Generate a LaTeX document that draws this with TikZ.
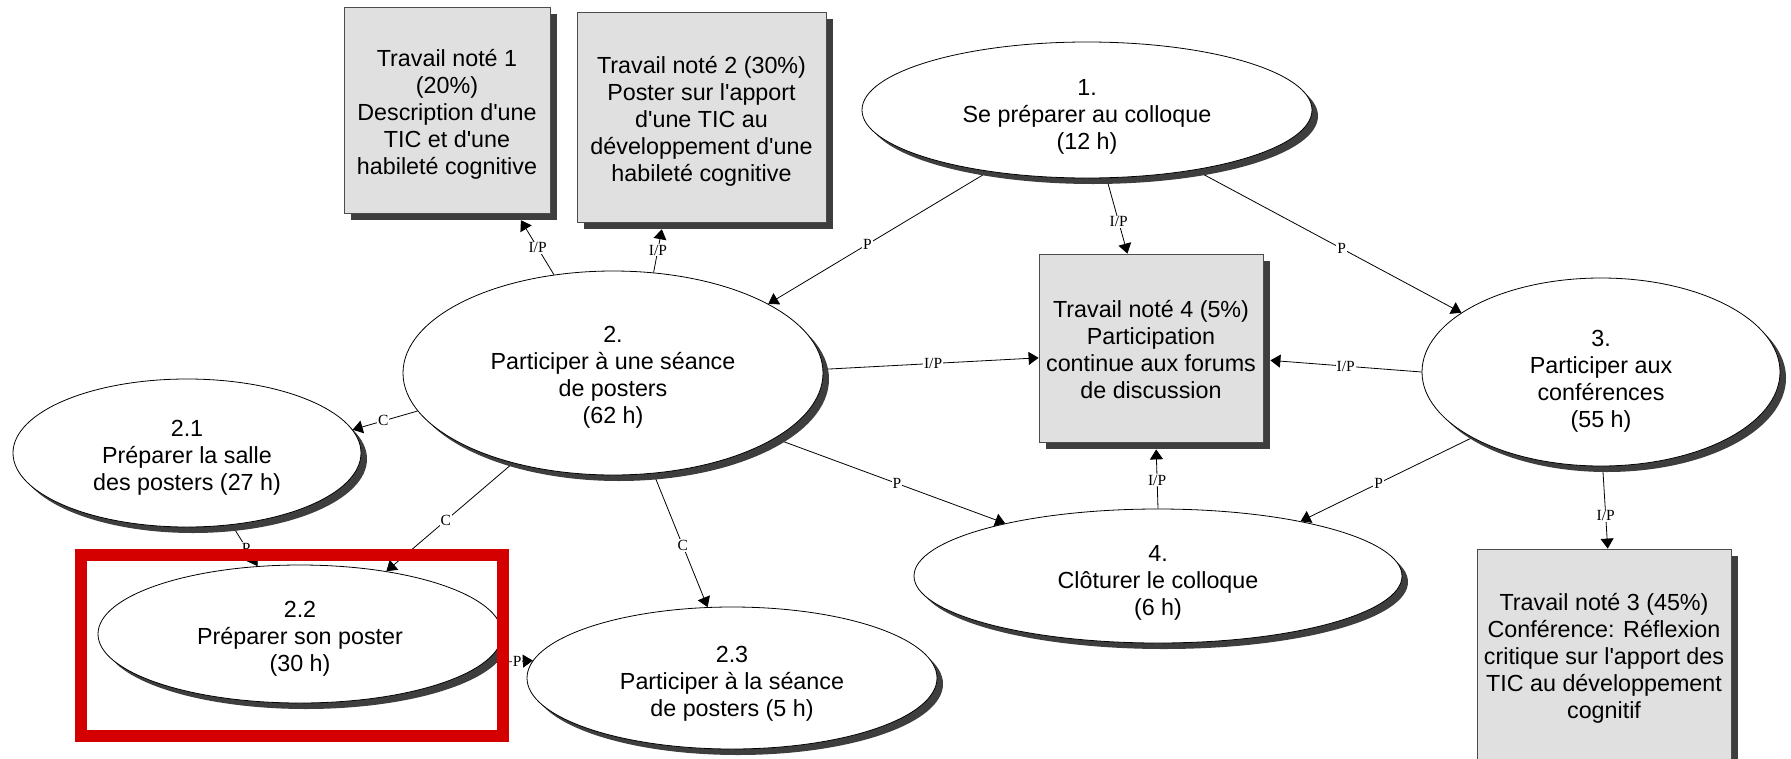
\documentclass[tikz,border=0pt]{standalone}
\usepackage{fontspec}
\setmainfont{Liberation Sans}
\newfontfamily\edgefont{Liberation Serif}
\usetikzlibrary{shapes.geometric,shadows,arrows.meta,backgrounds}
\definecolor{boxgray}{RGB}{224,224,224}
\definecolor{shadegray}{RGB}{62,62,62}
\definecolor{markred}{RGB}{212,0,0}
\newcommand\apos{\textquotesingle}
% invisible strut on a first line, to set how low the text block sits
\newcommand\capline[1]{\rule{0pt}{#1pt}}

\begin{document}
\begin{tikzpicture}[x=1pt,y=-1pt,
  task/.style={ellipse, draw=black, line width=0.8pt, fill=white, inner sep=0pt,
    align=center, font=\fontsize{23.3pt}{27pt}\selectfont,
    drop shadow={shadow xshift=6pt, shadow yshift=-6pt, fill=shadegray, opacity=1}},
  work/.style={rectangle, draw=black!70, line width=0.8pt, fill=boxgray, inner sep=0pt,
    align=center, font=\fontsize{23.3pt}{27pt}\selectfont,
    drop shadow={shadow xshift=7pt, shadow yshift=-7pt, fill=shadegray, opacity=1}},
  link/.style={line width=0.8pt, -{Triangle[length=10pt,width=13pt]}},
  tag/.style={font={\edgefont\fontsize{15.5pt}{15.5pt}\selectfont}, fill=white, inner sep=1pt},
]
\useasboundingbox (0,0) rectangle (1791,758);
\clip (0,0) rectangle (1791,758);

% activities
\node[task, minimum width=450pt, minimum height=136pt] (e1) at (1087,110)
  {\capline{29}1.\\Se préparer au colloque\\(12 h)};
\node[task, minimum width=420pt, minimum height=204pt] (e2) at (613,373)
  {\capline{24}2.\\Participer à une séance\\de posters\\(62 h)};
\node[task, minimum width=358pt, minimum height=188pt] (e3) at (1601,372)
  {\capline{34}3.\\Participer aux\\conférences\\(55 h)};
\node[task, minimum width=488pt, minimum height=134pt] (e4) at (1158,576)
  {\capline{29}4.\\Clôturer le colloque\\(6 h)};
\node[task, minimum width=348pt, minimum height=148pt] (e21) at (187,453)
  {\capline{26}2.1\\Préparer la salle\\des posters (27 h)};
\node[task, minimum width=404pt, minimum height=138pt] (e22) at (300,634)
  {\capline{25}2.2\\Préparer son poster\\(30 h)};
\node[task, minimum width=410pt, minimum height=142pt] (e23) at (732,678)
  {\capline{28}2.3\\Participer à la séance\\de posters (5 h)};

% graded assignments
\node[work, minimum width=206pt, minimum height=206pt] (tn1) at (447,110)
  {\capline{26}Travail noté 1\\(20\%)\\Description d\apos une\\TIC et d\apos une\\habileté cognitive};
\node[work, minimum width=249pt, minimum height=210pt] (tn2) at (701.5,117)
  {\capline{25}Travail noté 2 (30\%)\\Poster sur l\apos apport\\d\apos une TIC au\\développement d\apos une\\habileté cognitive};
\node[work, minimum width=224pt, minimum height=188pt] (tn4) at (1151,348)
  {\capline{21}Travail noté 4 (5\%)\\Participation\\continue aux forums\\de discussion};
\node[work, minimum width=254pt, minimum height=212pt] (tn3) at (1604,655)
  {\capline{24}Travail noté 3 (45\%)\\Conférence: Réflexion\\critique sur l\apos apport des\\TIC au développement\\cognitif};

% links between activities and assignments
\begin{scope}[on background layer]
  \draw[link] (e1.212) -- node[tag, pos=0.55] {P} (e2.24.9);
  \draw[link] (e1.286) -- node[tag, pos=0.58] {I/P} (tn4.104.2);
  \draw[link] (e1.331.3) -- node[tag, pos=0.55] {P} (e3.157);
  \draw[link, shorten >=8pt] (e2.121.2) -- node[tag, pos=0.44] {I/P} (tn1.304.6);
  \draw[link, shorten >=7pt] (e2.68.6) -- node[tag, pos=0.45] {I/P} (tn2.250.8);
  \draw[link] (e2.1.6) -- node[tag, pos=0.51] {I/P} (tn4.185.1);
  \draw[link, shorten >=7pt] (e3.180) -- node[tag, pos=0.48] {I/P} (tn4.354.9);
  \draw[link] (e2.191.6) -- node[tag, pos=0.53] {C} (e21.8.5);
  \draw[link] (e2.222.1) -- node[tag, pos=0.53] {C} (e22.36.3);
  \draw[link] (e2.292.2) -- node[tag, pos=0.54] {C} (e23.109.4);
  \draw[link] (e2.338.9) -- node[tag, pos=0.53] {P} (e4.161.5);
  \draw[link] (e3.207.2) -- node[tag, pos=0.545] {P} (e4.21.2);
  \draw[link, shorten >=7pt] (e4.90) -- node[tag, pos=0.43] {I/P} (tn4.273.7);
  \draw[link] (e3.271.6) -- node[tag, pos=0.6] {I/P} (tn3.88.4);
  \draw[link] (e21.302) -- node[tag, pos=0.56] {P} (e22.122.3);
  \draw[link] (e22.351.4) -- node[tag, pos=0.68] {P} (e23.175.4);
\end{scope}

% highlight frame
\node[draw=markred, line width=12pt, minimum width=422pt, minimum height=180.5pt, inner sep=0pt]
  (focus) at (292,645.25) {};
\end{tikzpicture}
\end{document}
